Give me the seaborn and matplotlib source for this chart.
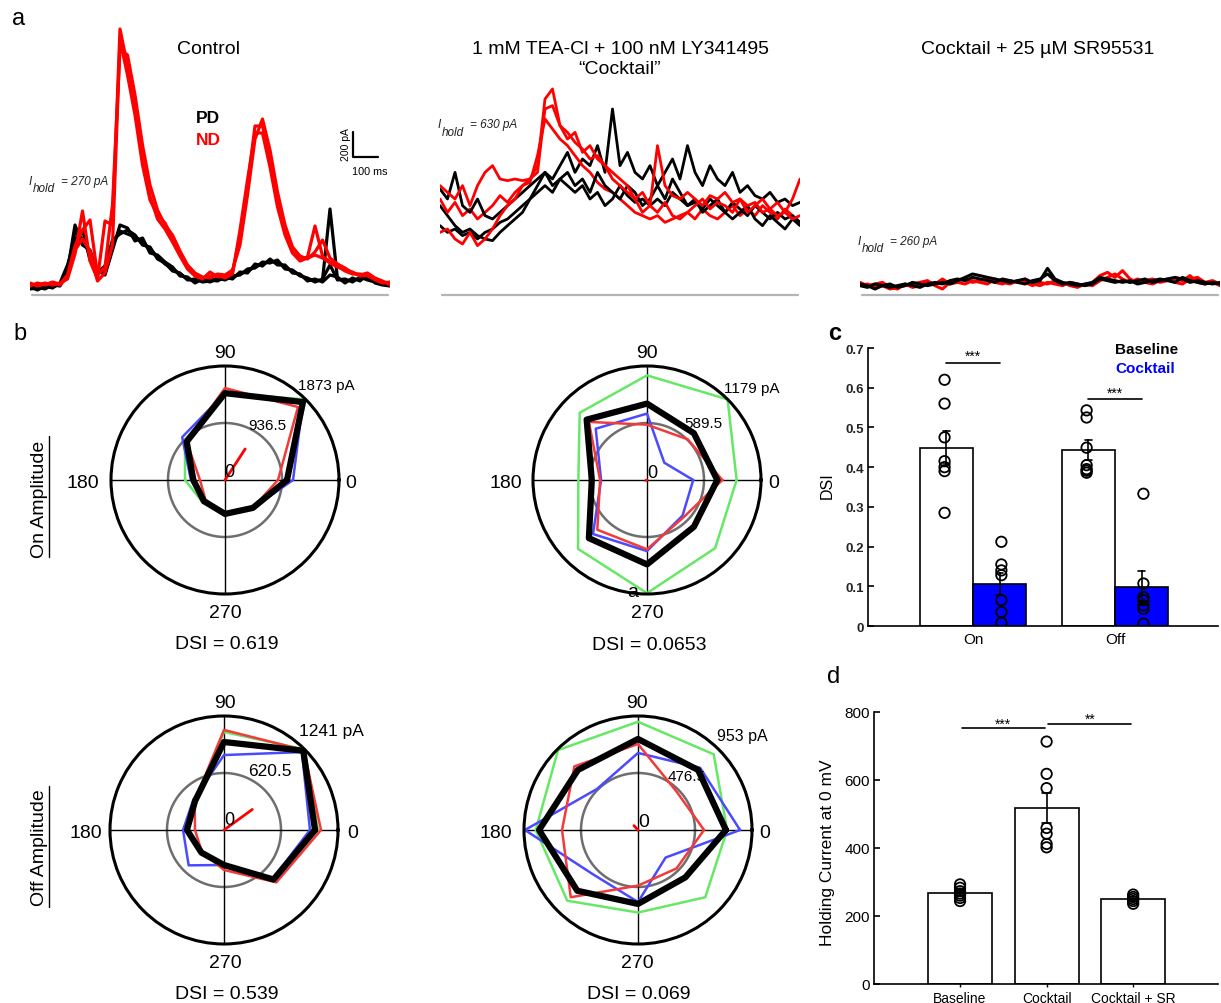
import numpy as np
import pandas as pd
import matplotlib
matplotlib.use("Agg")
import matplotlib.pyplot as plt
from matplotlib.lines import Line2D
import seaborn as sns

sns.set_theme(style="ticks")
plt.rcParams["font.family"] = ["Liberation Sans", "DejaVu Sans"]
for key in ("text.color", "axes.labelcolor", "xtick.color", "ytick.color", "axes.edgecolor"):
    plt.rcParams[key] = "black"

# ---------------------------------------------------------------- data
SAMPLE_MS = 30  # spacing between trace samples (ms)

# Control: PD (black) and ND (red) responses, pA above reference
control_pd_1 = [48, 56, 64, 72, 80, 208, 504, 448, 328, 168, 208, 408, 512, 488, 464, 424, 368, 304, 248, 208, 168, 128, 112, 120, 104, 128, 128, 144, 168, 192, 224, 248, 272, 264, 224, 192, 160, 128, 112, 120, 688, 128, 112, 120, 128, 136, 112, 96, 80]
control_pd_2 = [64, 40, 72, 56, 96, 240, 440, 520, 280, 200, 160, 360, 560, 536, 432, 456, 336, 320, 264, 224, 152, 144, 96, 128, 120, 112, 144, 128, 184, 176, 248, 232, 288, 240, 240, 176, 168, 112, 128, 104, 160, 144, 96, 136, 112, 168, 96, 80, 72]
control_pd_3 = [56, 64, 48, 80, 72, 192, 560, 400, 360, 184, 232, 440, 488, 520, 480, 400, 384, 288, 256, 192, 176, 120, 128, 104, 112, 136, 120, 152, 160, 208, 216, 264, 256, 280, 208, 200, 152, 136, 104, 128, 240, 120, 128, 104, 144, 120, 104, 88, 96]
control_nd_1 = [88, 80, 96, 80, 96, 128, 328, 672, 272, 128, 592, 560, 2128, 1832, 1512, 1088, 792, 608, 528, 424, 312, 208, 152, 128, 184, 144, 152, 184, 472, 872, 1352, 1352, 1088, 744, 504, 344, 288, 304, 552, 312, 264, 232, 192, 168, 168, 152, 128, 104, 96]
control_nd_2 = [72, 96, 80, 104, 88, 160, 392, 520, 600, 160, 224, 720, 1968, 1920, 1600, 1200, 880, 680, 560, 480, 352, 240, 176, 144, 136, 168, 160, 200, 400, 800, 1248, 1408, 1160, 824, 560, 384, 312, 288, 344, 440, 296, 248, 216, 176, 160, 176, 136, 112, 80]
control_nd_3 = [96, 72, 88, 96, 80, 144, 360, 448, 352, 112, 176, 400, 2040, 1760, 1440, 1040, 760, 640, 576, 456, 336, 224, 160, 136, 152, 160, 136, 168, 520, 920, 1296, 1296, 1024, 704, 480, 336, 272, 296, 320, 296, 256, 224, 200, 184, 152, 160, 120, 96, 104]

# Cocktail
cocktail_pd_1 = [715, 635, 555, 501, 528, 475, 448, 435, 501, 555, 608, 661, 768, 875, 981, 928, 1035, 1141, 981, 1088, 1035, 1195, 981, 1488, 1035, 1141, 981, 928, 1035, 875, 981, 1088, 928, 1195, 981, 875, 1035, 928, 875, 981, 821, 875, 795, 768, 821, 741, 768, 715, 741]
cocktail_pd_2 = [848, 768, 981, 715, 661, 768, 635, 608, 661, 715, 768, 821, 875, 928, 981, 875, 928, 981, 875, 928, 821, 981, 875, 821, 768, 875, 821, 715, 768, 875, 768, 928, 821, 715, 768, 661, 715, 768, 661, 608, 661, 715, 608, 555, 635, 581, 528, 608, 555]
cocktail_pd_3 = [555, 501, 528, 475, 501, 448, 501, 528, 581, 608, 661, 715, 768, 821, 875, 821, 928, 875, 821, 875, 768, 821, 715, 768, 875, 795, 741, 768, 715, 768, 715, 821, 768, 715, 741, 688, 768, 715, 661, 741, 688, 635, 715, 661, 608, 661, 608, 635, 581]
cocktail_nd_1 = [501, 528, 448, 408, 501, 395, 448, 528, 635, 715, 768, 875, 928, 1035, 1568, 1648, 1355, 1248, 1301, 1141, 1195, 1088, 1035, 981, 928, 875, 768, 821, 715, 661, 741, 635, 608, 661, 715, 768, 688, 741, 715, 661, 768, 715, 741, 661, 688, 635, 661, 608, 635]
cocktail_nd_2 = [875, 821, 768, 875, 715, 875, 981, 1035, 928, 915, 928, 915, 928, 981, 1488, 1515, 1355, 1301, 1221, 1168, 1088, 1115, 1035, 928, 875, 821, 768, 661, 715, 1195, 875, 795, 768, 821, 768, 715, 795, 768, 821, 741, 768, 661, 715, 768, 688, 741, 661, 768, 928]
cocktail_nd_3 = [768, 661, 741, 635, 688, 608, 661, 715, 795, 741, 821, 875, 901, 1115, 1408, 1328, 1248, 1195, 1115, 1035, 981, 901, 848, 821, 768, 715, 661, 635, 608, 635, 581, 608, 635, 661, 608, 688, 635, 608, 661, 715, 635, 688, 635, 715, 661, 608, 688, 635, 581]

# Cocktail + SR95531
sr_pd_1 = [88, 75, 48, 75, 88, 61, 75, 101, 88, 75, 88, 101, 88, 115, 141, 168, 155, 141, 128, 115, 101, 115, 128, 101, 115, 213, 128, 101, 88, 75, 88, 101, 141, 128, 115, 101, 115, 88, 101, 115, 128, 115, 101, 141, 115, 101, 88, 101, 88]
sr_pd_2 = [75, 61, 88, 75, 61, 75, 88, 75, 61, 88, 101, 88, 115, 128, 115, 141, 128, 115, 101, 128, 115, 101, 88, 115, 128, 168, 115, 88, 101, 88, 75, 88, 128, 115, 101, 115, 101, 115, 128, 101, 115, 128, 141, 128, 101, 115, 101, 88, 101]
sr_nd_1 = [75, 88, 61, 75, 48, 61, 75, 88, 101, 115, 75, 48, 101, 115, 128, 101, 115, 128, 101, 88, 115, 101, 128, 88, 75, 101, 88, 75, 101, 88, 75, 101, 155, 181, 141, 195, 128, 101, 115, 128, 101, 115, 128, 115, 155, 101, 88, 101, 75]
sr_nd_2 = [101, 75, 88, 101, 61, 48, 88, 61, 75, 101, 88, 128, 88, 101, 88, 115, 101, 88, 128, 101, 88, 115, 101, 75, 101, 88, 115, 101, 75, 61, 88, 75, 115, 141, 168, 128, 101, 128, 101, 88, 115, 128, 101, 88, 128, 141, 101, 115, 88]

# Holding currents quoted above each trace set
hold_labels = ["270", "630", "260"]

# Polar tuning (pA per direction)
ANGLES_DEG = [0, 45, 90, 135, 180, 225, 270, 315]

on_ctrl_green = [1019, 1873, 1427, 930, 657, 520, 557, 648]
on_ctrl_blue = [1118, 1810, 1427, 995, 560, 491, 557, 648]
on_ctrl_red = [871, 1696, 1510, 890, 411, 455, 557, 648]
on_ctrl_mean = [1019, 1810, 1427, 890, 520, 491, 557, 648]
on_ctrl_vector = (57, 608)

on_ckt_green = [927, 1179, 1082, 984, 710, 1008, 1170, 997]
on_ckt_blue = [478, 253, 687, 750, 475, 790, 735, 520]
on_ckt_red = [779, 595, 572, 850, 485, 727, 717, 540]
on_ckt_mean = [727, 685, 790, 883, 571, 850, 873, 685]
on_ckt_vector = (200, 12)

off_ctrl_green = [1023, 1241, 1067, 450, 400, 350, 390, 762]
off_ctrl_blue = [936, 1200, 816, 470, 446, 544, 381, 750]
off_ctrl_red = [1056, 1230, 1089, 450, 316, 340, 435, 806]
off_ctrl_mean = [991, 1220, 958, 446, 403, 348, 381, 762]
off_ctrl_vector = (36, 381)

off_ckt_green = [745, 895, 905, 945, 855, 836, 690, 795]
off_ckt_blue = [853, 735, 644, 485, 945, 527, 602, 326]
off_ckt_red = [552, 455, 719, 752, 635, 795, 465, 455]
off_ckt_mean = [735, 710, 761, 710, 827, 718, 618, 560]
off_ckt_vector = (133, 50)

# DSI summary
dsi_on_baseline = [0.62, 0.56, 0.475, 0.415, 0.40, 0.39, 0.285]
dsi_on_cocktail = [0.212, 0.155, 0.14, 0.128, 0.065, 0.035, 0.008]
dsi_off_baseline = [0.543, 0.525, 0.449, 0.405, 0.395, 0.391, 0.386]
dsi_off_cocktail = [0.333, 0.107, 0.073, 0.065, 0.052, 0.043, 0.006]
dsi_sig_line = [0.662, 0.572]
dsi_sig_text = [0.670, 0.577]

# Holding current
hold_baseline = [293, 283, 273, 266, 260, 253, 244]
hold_cocktail = [713, 618, 576, 459, 442, 412, 402]
hold_sr = [263, 256, 250, 244, 236]
hold_sig_line = [753, 765]

# ---------------------------------------------------------------- figure
W, H = 1221, 1004
fig = plt.figure(figsize=(W / 100, H / 100), dpi=100)


def px_axes(x0, y0, x1, y1, **kw):
    return fig.add_axes([x0 / W, 1 - y1 / H, (x1 - x0) / W, (y1 - y0) / H], **kw)


def px_text(x, y, s, **kw):
    kw.setdefault("va", "baseline")
    kw.setdefault("ha", "center")
    return fig.text(x / W, 1 - y / H, s, **kw)


def draw_traces(ax, groups, lw):
    for traces, color in groups:
        for tr in traces:
            t = np.arange(len(tr)) * SAMPLE_MS
            sns.lineplot(x=t, y=tr, ax=ax, color=color, lw=lw,
                         estimator=None, sort=False)
    ax.axhline(0, xmin=0.005, xmax=0.995, color="#b4b4b4", lw=1.6, zorder=0)
    ax.set_xlim(0, 1440)
    ax.set_ylim(-32, 2208)
    ax.axis("off")


# ---- panel a: traces
ax_ctrl = px_axes(30, 20, 390, 300)
draw_traces(ax_ctrl, [([control_pd_1, control_pd_2, control_pd_3], "black"),
                      ([control_nd_1, control_nd_2, control_nd_3], "#ff0000")], lw=2.3)
# scale bar: 200 pA / 100 ms
ax_ctrl.plot([1291, 1291, 1391], [1104 + 200, 1104, 1104], color="black", lw=1.6)

ax_ckt = px_axes(440, 20, 800, 300)
draw_traces(ax_ckt, [([cocktail_pd_1], "black"), ([cocktail_nd_3], "#ff0000"),
                     ([cocktail_pd_2, cocktail_pd_3], "black"),
                     ([cocktail_nd_1, cocktail_nd_2], "#ff0000")], lw=2.0)

ax_sr = px_axes(860, 20, 1220, 300)
draw_traces(ax_sr, [([sr_nd_1, sr_nd_2], "#ff0000"), ([sr_pd_1, sr_pd_2], "black")], lw=2.2)

px_text(12, 25, "a", ha="left", fontsize=17)
px_text(208.5, 54.5, "Control", fontsize=14)
px_text(621, 54.5, "1 mM TEA-Cl + 100 nM LY341495", fontsize=14)
px_text(620, 74, "\u201cCocktail\u201d", fontsize=14)
px_text(1037.5, 54.5, "Cocktail + 25 \u00b5M SR95531", fontsize=14)
px_text(208, 123, "PD", fontsize=12.5, fontweight="bold", color="black")
px_text(208, 145, "ND", fontsize=12.5, fontweight="bold", color="#ff0000")
px_text(346, 145, "200 pA", fontsize=7.5, rotation=90, va="center")
px_text(370, 175, "100 ms", fontsize=7.8)
for (x, y), s in zip([(29, 185), (438, 128), (858, 245)], hold_labels):
    px_text(x, y, "I", ha="left", fontsize=8.5, style="italic", color="#222222")
    px_text(x + 4, y + 7.5, "hold", ha="left", fontsize=8.5, style="italic", color="#222222")
    px_text(x + 32, y, f"= {s} pA", ha="left", fontsize=8.5, style="italic", color="#222222")

# ---- panel b: polar tuning
TRIAL_COLORS = {"green": "#66e866", "blue": "#4a4aff", "red": "#f23a3a"}


def draw_polar(cx, cy, rmax, green, blue, red, mean, vector):
    R = 114
    ax = px_axes(cx - R, cy - R, cx + R, cy + R, projection="polar")
    ring = np.linspace(0, 2 * np.pi, 241)
    ax.plot(ring, np.full(ring.shape, rmax / 2), color="#6e6e6e", lw=1.8, zorder=1)
    for a in (0, 90, 180, 270):
        ax.plot(np.deg2rad([a, a]), [0, rmax], color="black", lw=1.0, zorder=1)
    theta = np.deg2rad(ANGLES_DEG + [360])
    for color, r in (("green", green), ("blue", blue), ("red", red)):
        sns.lineplot(x=theta, y=r + r[:1], ax=ax, color=TRIAL_COLORS[color],
                     lw=1.8, sort=False, estimator=None, zorder=2, clip_on=False)
    sns.lineplot(x=theta, y=mean + mean[:1], ax=ax, color="black", lw=4.5,
                 sort=False, estimator=None, zorder=3, clip_on=False)
    ang, mag = vector
    ax.plot(np.deg2rad([ang, ang]), [0, mag], color="#ff0000", lw=2.0, zorder=4)
    ax.set_ylim(0, rmax)
    ax.set_xticks([])
    ax.set_yticks([])
    ax.grid(False)
    ax.spines["polar"].set_linewidth(2.2)
    ax.spines["polar"].set_color("black")
    ax.set_xlabel("")
    ax.set_ylabel("")
    return ax


draw_polar(225, 481, 1873, on_ctrl_green, on_ctrl_blue, on_ctrl_red, on_ctrl_mean, on_ctrl_vector)
draw_polar(647, 481, 1179, on_ckt_green, on_ckt_blue, on_ckt_red, on_ckt_mean, on_ckt_vector)
draw_polar(224, 831, 1241, off_ctrl_green, off_ctrl_blue, off_ctrl_red, off_ctrl_mean, off_ctrl_vector)
draw_polar(638, 831, 953, off_ckt_green, off_ckt_blue, off_ckt_red, off_ckt_mean, off_ckt_vector)

px_text(13, 340, "b", ha="left", fontsize=17)

# direction labels around each circle
for cx, top, mid, bot, dsi_y, left_x, right_x, dsi in [
        (225, 358, 488, 618, 649.5, 83, 351, "DSI = 0.619"),
        (647, 358, 488, 618, 650, 506, 774, "DSI = 0.0653"),
        (225, 708, 838, 968, 999, 86, 353, "DSI = 0.539"),
        (637, 708, 838, 968, 999, 496, 765, "DSI = 0.069")]:
    px_text(cx, top, "90", fontsize=14)
    px_text(cx, bot, "270", fontsize=14)
    px_text(left_x, mid, "180", fontsize=14)
    px_text(right_x, mid, "0", fontsize=14)
    px_text(cx + 2, dsi_y, dsi, fontsize=14)

# radial labels
px_text(326, 390, "1873 pA", fontsize=11)
px_text(267, 430, "936.5", fontsize=11)
px_text(229, 477, "0", fontsize=13)
px_text(752, 393, "1179 pA", fontsize=11)
px_text(703, 428, "589.5", fontsize=11)
px_text(652, 478, "0", fontsize=13)
px_text(633, 597, "a", fontsize=14)
px_text(331, 736, "1241 pA", fontsize=12.5)
px_text(270, 776, "620.5", fontsize=12.5)
px_text(229, 825, "0", fontsize=13)
px_text(742, 741, "953 pA", fontsize=11.5)
px_text(687, 781, "476.5", fontsize=11)
px_text(644, 827, "0", fontsize=14)

# row labels
px_text(40, 499, "On Amplitude", fontsize=14, rotation=90, va="center")
px_text(40, 848, "Off Amplitude", fontsize=14, rotation=90, va="center")
for y0, y1 in ((437, 558), (787, 908)):
    fig.add_artist(Line2D([49 / W, 49 / W], [1 - y0 / H, 1 - y1 / H],
                          color="black", lw=1.0))

# ---- panel c: DSI bars
dsi_df = pd.DataFrame({
    "response": ["On"] * 14 + ["Off"] * 14,
    "condition": (["Baseline"] * 7 + ["Cocktail"] * 7) * 2,
    "DSI": dsi_on_baseline + dsi_on_cocktail + dsi_off_baseline + dsi_off_cocktail,
})
axc = px_axes(868, 349, 1218, 627)
sns.barplot(data=dsi_df, x="response", y="DSI", hue="condition",
            order=["On", "Off"], hue_order=["Baseline", "Cocktail"],
            palette={"Baseline": "white", "Cocktail": "#0000ff"}, saturation=1,
            edgecolor="black", linewidth=1.2, width=0.75, errorbar="se",
            capsize=0.1, err_kws={"color": "black", "linewidth": 1.2},
            legend=False, ax=axc)
sns.stripplot(data=dsi_df, x="response", y="DSI", hue="condition",
              order=["On", "Off"], hue_order=["Baseline", "Cocktail"],
              palette={"Baseline": "black", "Cocktail": "black"}, dodge=True,
              jitter=False, size=7.5, legend=False, ax=axc)
for coll in axc.collections:
    coll.set_facecolor("none")
    coll.set_edgecolor("black")
    coll.set_linewidth(1.3)
    coll.set_zorder(4)
for i, (yl, yt) in enumerate(zip(dsi_sig_line, dsi_sig_text)):
    axc.plot([i - 0.1875, i + 0.1875], [yl, yl], color="black", lw=1.2)
    axc.text(i, yt, "***", ha="center", va="baseline", fontsize=10)
axc.set_xlim(-0.739, 1.725)
axc.set_ylim(0, 0.7)
axc.set_yticks([0, 0.1, 0.2, 0.3, 0.4, 0.5, 0.6, 0.7])
axc.set_yticklabels(["0", "0.1", "0.2", "0.3", "0.4", "0.5", "0.6", "0.7"],
                    fontweight="bold", color="#222222")
axc.tick_params(axis="y", direction="in", length=4, width=1.2, labelsize=9.5, pad=3)
axc.tick_params(axis="x", direction="in", length=0, labelsize=11, pad=4)
axc.set_xlabel("")
axc.set_ylabel("DSI", fontsize=11.5)
axc.yaxis.set_label_coords(-0.094, 0.51)
sns.despine(ax=axc)
for sp in ("left", "bottom"):
    axc.spines[sp].set_linewidth(1.2)
    axc.spines[sp].set_color("black")
px_text(828, 340, "c", ha="left", fontsize=17, fontweight="bold")
px_text(1115, 354, "Baseline", ha="left", fontsize=11, fontweight="bold", color="black")
px_text(1115, 373, "Cocktail", ha="left", fontsize=11, fontweight="bold", color="#0000ff")

# ---- panel d: holding current
hold_df = pd.DataFrame({
    "condition": ["Baseline"] * len(hold_baseline) + ["Cocktail"] * len(hold_cocktail)
    + ["Cocktail + SR"] * len(hold_sr),
    "current": hold_baseline + hold_cocktail + hold_sr,
})
axd = px_axes(874, 713, 1218, 985)
sns.barplot(data=hold_df, x="condition", y="current", color="white", saturation=1,
            edgecolor="black", linewidth=1.2, width=0.74, errorbar="se",
            capsize=0.1, err_kws={"color": "black", "linewidth": 1.2}, ax=axd)
sns.stripplot(data=hold_df, x="condition", y="current", color="black",
              jitter=False, size=7.5, ax=axd)
for coll in axd.collections:
    coll.set_facecolor("none")
    coll.set_edgecolor("black")
    coll.set_linewidth(1.3)
    coll.set_zorder(4)
axd.plot([0.02, 0.98], [hold_sig_line[0]] * 2, color="black", lw=1.2)
axd.plot([1.02, 1.98], [hold_sig_line[1]] * 2, color="black", lw=1.2)
axd.text(0.5, hold_sig_line[0] + 2, "***", ha="center", va="baseline", fontsize=10)
axd.text(1.5, hold_sig_line[1] + 2, "**", ha="center", va="baseline", fontsize=10)
axd.set_xlim(-0.994, 2.98)
axd.set_ylim(0, 800)
axd.set_yticks([0, 200, 400, 600, 800])
axd.tick_params(axis="y", direction="in", length=4, width=1.2, labelsize=11, pad=3)
axd.tick_params(axis="x", direction="inout", length=4, width=1.0, labelsize=10, pad=3)
axd.set_xlabel("")
axd.set_ylabel("Holding Current at 0 mV", fontsize=12.5)
axd.yaxis.set_label_coords(-0.113, 0.485)
sns.despine(ax=axd)
for sp in ("left", "bottom"):
    axd.spines[sp].set_linewidth(1.2)
    axd.spines[sp].set_color("black")
px_text(827, 683, "d", ha="left", fontsize=17)

fig.savefig("out.png", dpi=100, facecolor="white")
